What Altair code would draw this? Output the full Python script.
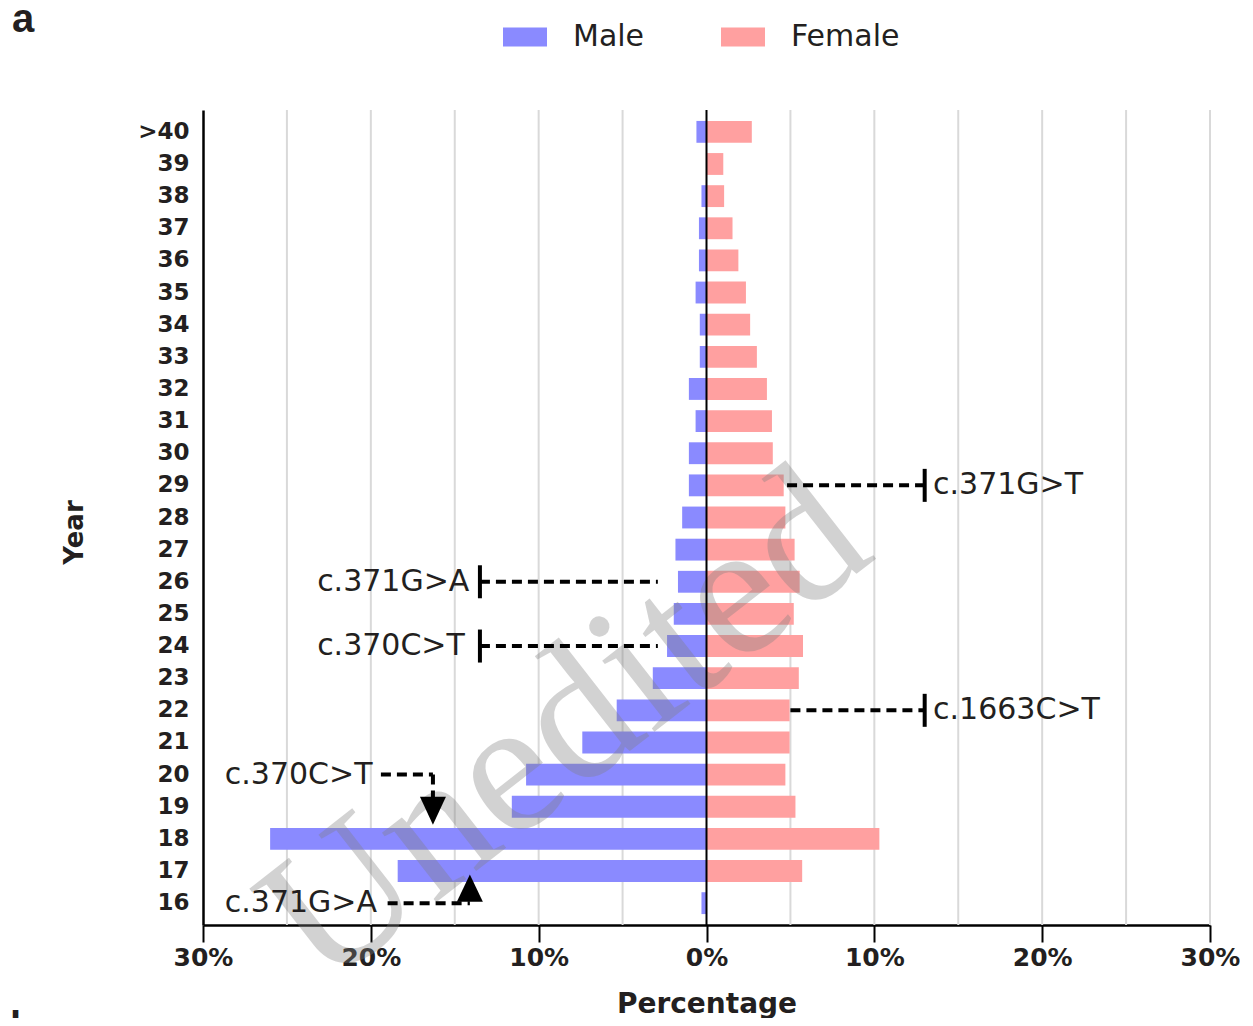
import altair as alt
import pandas as pd

# ---- data ----
years = [">40", "39", "38", "37", "36", "35", "34", "33", "32", "31", "30", "29", "28",
         "27", "26", "25", "24", "23", "22", "21", "20", "19", "18", "17", "16"]
male = [0.6, 0.0, 0.3, 0.45, 0.45, 0.65, 0.4, 0.4, 1.05, 0.65, 1.05, 1.05, 1.45,
        1.85, 1.7, 1.95, 2.35, 3.2, 5.35, 7.4, 10.75, 11.6, 26.0, 18.4, 0.3]
female = [2.7, 1.0, 1.05, 1.55, 1.9, 2.35, 2.6, 3.0, 3.6, 3.9, 3.95, 4.6, 4.7,
          5.25, 5.55, 5.2, 5.75, 5.5, 4.95, 4.95, 4.7, 5.3, 10.3, 5.7, 0.0]
sexes = ["Male", "Female"]
colors = ["#8A8AFF", "#FFA0A0"]
x_ticks = [-30, -20, -10, 0, 10, 20, 30]
x_grid = [-25, -20, -15, -10, -5, 5, 10, 15, 20, 25, 30]

# annotations (data coordinates: percentage, year row)
dash_year = ["29", "22", "26", "24", "20", "16"]
dash_x1 = [4.8, 5.0, -13.5, -13.5, -19.4, -19.0]
dash_x2 = [13.0, 13.0, -2.9, -2.9, -16.3, -14.1]
bar_year = ["29", "22", "26", "24"]
bar_x = [13.0, 13.0, -13.5, -13.5]
lab_text = ["c.371G>T", "c.1663C>T", "c.371G>A", "c.370C>T", "c.370C>T", "c.371G>A"]
lab_year = ["29", "22", "26", "24", "20", "16"]
lab_x = [13.5, 13.5, -23.2, -23.2, -28.7, -28.7]
vdash_x = [-16.3]
vdash_y1 = ["20"]
vdash_y2 = ["19"]
tri_down_x = [-16.3]
tri_down_year = ["19"]
tri_up_x = [-14.1]
tri_up_year = ["16"]

rows = []
for y, m, f in zip(years, male, female):
    rows.append({"year": y, "sex": "Male", "value": -m})
    rows.append({"year": y, "sex": "Female", "value": f})
df = pd.DataFrame(rows)

TXT = "#231f20"
W, H = 1007, 815

yscale = alt.Scale(domain=years, paddingInner=0.32, paddingOuter=0.34)
xscale = alt.Scale(domain=[-30, 30], nice=False, zero=False)

x_axis = alt.Axis(values=x_ticks, labelExpr="abs(datum.value) + '%'",
                  grid=False, domainColor="black", domainWidth=2.5,
                  tickColor="black", tickWidth=2, tickSize=17,
                  labelFont="DejaVu Sans", labelFontWeight="bold", labelFontSize=25,
                  labelColor=TXT, labelPadding=3, labelFlush=False, labelOverlap=False,
                  title="Percentage", titleFont="DejaVu Sans", titleFontWeight="bold",
                  titleFontSize=28, titleColor=TXT, titleBaseline="alphabetic",
                  titleY=87)
y_axis = alt.Axis(ticks=False, grid=False, domainColor="black", domainWidth=2.5,
                  labelFont="DejaVu Sans", labelFontWeight="bold", labelFontSize=23,
                  labelColor=TXT, labelPadding=14,
                  title="Year", titleFont="DejaVu Sans", titleFontWeight="bold",
                  titleFontSize=26, titleColor=TXT, titleAngle=270,
                  titleBaseline="alphabetic", titleAlign="center",
                  titleX=-121, titleY=422)


def Y(field="year"):
    return alt.Y(f"{field}:N", sort=years, scale=yscale, axis=y_axis)


def X(field, **kw):
    return alt.X(f"{field}:Q", scale=xscale, axis=x_axis, **kw)


grid = alt.Chart(pd.DataFrame({"g": x_grid})).mark_rule(color="#d9d9d9", strokeWidth=2).encode(
    x=X("g"))

bars = alt.Chart(df).mark_bar().encode(
    x=X("value", stack=None),
    y=Y(),
    color=alt.Color("sex:N", scale=alt.Scale(domain=sexes, range=colors),
                    legend=alt.Legend(title=None, orient="none", direction="horizontal",
                                      legendX=300, legendY=-95, padding=0,
                                      symbolType="M-1,-0.43L1,-0.43L1,0.43L-1,0.43Z",
                                      symbolSize=1936, symbolStrokeWidth=0, symbolOpacity=1,
                                      labelFont="DejaVu Sans", labelFontSize=30,
                                      labelColor=TXT, labelOffset=26, columnPadding=76)),
)

watermark = alt.Chart(pd.DataFrame({"t": ["Unedited"]})).mark_text(
    font="Liberation Serif", fontSize=192, angle=322, align="center", baseline="middle",
    color="#808080", opacity=0.35
).encode(text="t:N", x=alt.value(362), y=alt.value(618))

zero = alt.Chart(pd.DataFrame({"z": [0]})).mark_rule(color="black", strokeWidth=2).encode(
    x=X("z"))

dash_df = pd.DataFrame({"year": dash_year, "x1": dash_x1, "x2": dash_x2})
dashes = alt.Chart(dash_df).mark_rule(color="black", strokeWidth=4, strokeDash=[10, 6]).encode(
    x=X("x1"), x2="x2:Q", y=Y())

vdash_df = pd.DataFrame({"x": vdash_x, "y1": vdash_y1, "y2": vdash_y2})
vdash = alt.Chart(vdash_df).mark_rule(color="black", strokeWidth=4, strokeDash=[10, 6]).encode(
    x=X("x"), y=Y("y1"), y2="y2:N")

bar_df = pd.DataFrame({"year": bar_year, "x": bar_x})
ticks = alt.Chart(bar_df).mark_tick(color="black", thickness=4, size=33, opacity=1).encode(
    x=X("x"), y=Y())

lab_df = pd.DataFrame({"year": lab_year, "x": lab_x, "t": lab_text})
labels = alt.Chart(lab_df).mark_text(font="DejaVu Sans", fontSize=30, color=TXT,
                                     align="left", baseline="middle").encode(
    x=X("x"), y=Y(), text="t:N")

tdown = alt.Chart(pd.DataFrame({"year": tri_down_year, "x": tri_down_x})).mark_point(
    shape="M-1,-0.77L1,-0.77L0,1.38Z", filled=True, size=676, color="black", opacity=1
).encode(x=X("x"), y=Y())

tup = alt.Chart(pd.DataFrame({"year": tri_up_year, "x": tri_up_x})).mark_point(
    shape="M-1,-0.1L1,-0.1L0,-2.2Z", filled=True, size=676, color="black", opacity=1
).encode(x=X("x"), y=Y())

panel_a = alt.Chart(pd.DataFrame({"t": ["a"]})).mark_text(
    font="Liberation Sans", fontWeight="bold", fontSize=40, color=TXT,
    align="left", baseline="alphabetic"
).encode(text="t:N", x=alt.value(-191), y=alt.value(-78))

panel_b = alt.Chart(pd.DataFrame({"t": ["b"]})).mark_text(
    font="Liberation Sans", fontWeight="bold", fontSize=40, color=TXT,
    align="left", baseline="top"
).encode(text="t:N", x=alt.value(-193), y=alt.value(898))

chart = alt.layer(grid, bars, watermark, zero, dashes, vdash, ticks, labels, tdown, tup,
                  panel_a, panel_b).properties(
    width=W, height=H,
    padding={"left": 195, "top": 102, "right": 30, "bottom": 93},
    autosize=alt.AutoSizeParams(type="none"),
).configure_view(strokeWidth=0)

chart.save("out.html", embed_options={"renderer": "svg", "actions": False})
